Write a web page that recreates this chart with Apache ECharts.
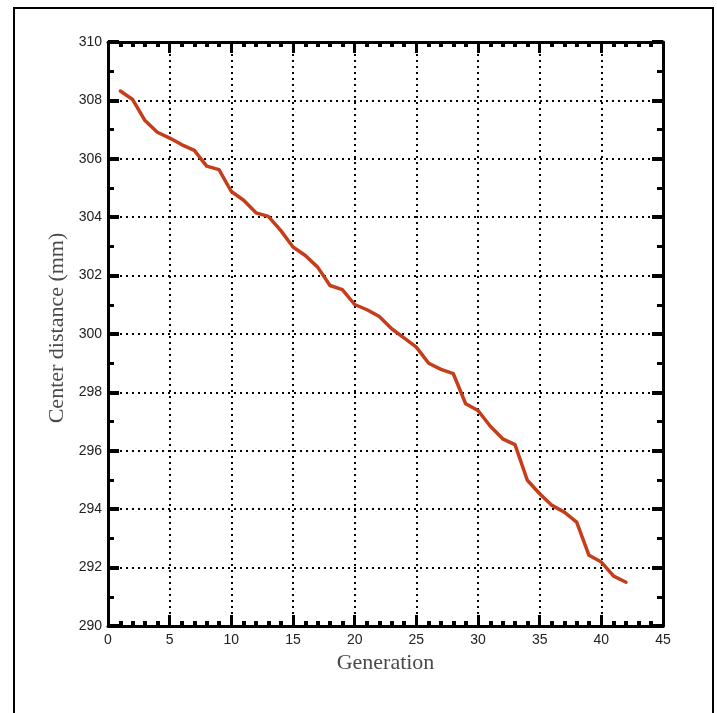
<!DOCTYPE html>
<html>
<head>
<meta charset="utf-8">
<script src="https://cdn.jsdelivr.net/npm/echarts@6/dist/echarts.min.js"></script>
<style>
html,body{margin:0;padding:0;background:#fff;}
#chart{width:717px;height:713px;}
</style>
</head>
<body>
<div id="chart"></div>
<script>
var generation = [1,2,3,4,5,6,7,8,9,10,11,12,13,14,15,16,17,18,19,20,21,22,23,24,25,26,27,28,29,30,31,32,33,34,35,36,37,38,39,40,41,42];
var centerDistance = [308.32,308.03,307.31,306.91,306.71,306.48,306.29,305.75,305.63,304.88,304.58,304.15,304.03,303.55,302.98,302.69,302.29,301.66,301.52,301.01,300.83,300.60,300.18,299.87,299.55,299.00,298.79,298.64,297.61,297.38,296.84,296.41,296.21,294.99,294.53,294.13,293.90,293.56,292.42,292.19,291.71,291.50];
var xTitle = 'Generation';
var yTitle = 'Center distance (mm)';

var chart = echarts.init(document.getElementById('chart'), null, {renderer:'canvas'});
var labelStyle = {fontFamily:'Liberation Sans', fontSize:14, color:'#222'};
var nameStyleX = {fontFamily:'Liberation Serif', fontSize:22, color:'#4a4a4a'};
var nameStyleY = {fontFamily:'Liberation Serif', fontSize:22, color:'#4a4a4a', padding:[0,0,0,12]};
var axisLine = {show:true, onZero:false, lineStyle:{color:'#000', width:3}};
var split = {show:true, lineStyle:{color:'#000', width:2, type:[2,4]}};

var xCommon = {type:'value', min:0, max:45, interval:5, axisLine:axisLine,
  axisTick:{show:true, inside:true, length:11, lineStyle:{color:'#000', width:3}},
  minorTick:{show:true, splitNumber:5, length:5, lineStyle:{color:'#000', width:4}}};
var yCommon = {type:'value', min:290, max:310, interval:2, axisLine:axisLine,
  axisTick:{show:true, inside:true, length:11, lineStyle:{color:'#000', width:4}},
  minorTick:{show:true, splitNumber:2, length:6, lineStyle:{color:'#000', width:3}}};

var pts = generation.map(function(g,i){return [g, centerDistance[i]];});

chart.setOption({
  animation:false,
  backgroundColor:'#fff',
  grid:{left:108, top:42, right:54, bottom:87, containLabel:false},
  graphic:[{type:'rect', shape:{x:14, y:8, width:699, height:800}, style:{fill:'none', stroke:'#000', lineWidth:2}, silent:true, z:-1}],
  xAxis:[
    Object.assign({}, xCommon, {position:'bottom', name:xTitle, nameLocation:'middle', nameGap:24,
      nameTextStyle:nameStyleX, axisLabel:Object.assign({margin:7}, labelStyle), splitLine:split}),
    Object.assign({}, xCommon, {position:'top', axisLabel:{show:false}, splitLine:{show:false}})
  ],
  yAxis:[
    Object.assign({}, yCommon, {position:'left', name:yTitle, nameLocation:'middle', nameGap:33,
      nameTextStyle:nameStyleY, axisLabel:Object.assign({margin:6}, labelStyle), splitLine:split}),
    Object.assign({}, yCommon, {position:'right', axisLabel:{show:false}, splitLine:{show:false}})
  ],
  series:[{type:'line', data:pts, showSymbol:false, symbol:'none',
    lineStyle:{color:'#c63d1c', width:3.5, join:'round', cap:'round'}, z:3}]
});
</script>
</body>
</html>
